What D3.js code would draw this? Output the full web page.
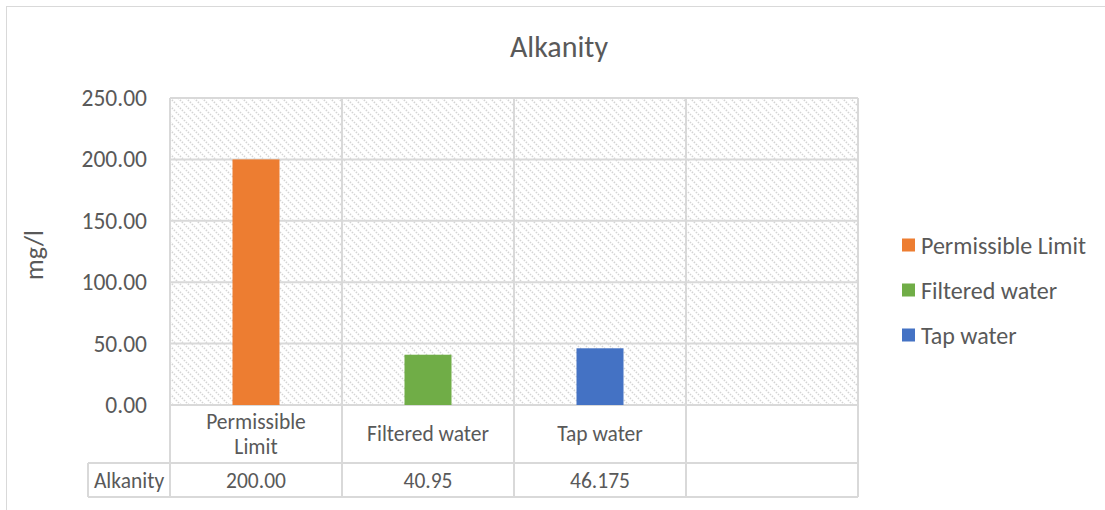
<!DOCTYPE html>
<html>
<head>
<meta charset="utf-8">
<script src="https://cdn.jsdelivr.net/npm/d3@7"></script>
<style>
  html, body { margin: 0; padding: 0; background: #fff; }
  svg { display: block; font-family: Carlito, Calibri, "Open Sans", "Liberation Sans", sans-serif; }
</style>
</head>
<body>
<svg id="chart" width="1105" height="510"></svg>
<script>
// Alkalinity measurements (mg/l)
const categories = ["Permissible Limit", "Filtered water", "Tap water", ""];
const seriesNames = ["Permissible Limit", "Filtered water", "Tap water"];
const values = [200.00, 40.95, 46.175];
const tableLabels = ["200.00", "40.95", "46.175", ""];
const seriesColors = ["#ED7D31", "#70AD47", "#4472C4"];
const yTicks = [0, 50, 100, 150, 200, 250];
const rowName = "Alkanity";

const svg = d3.select("#chart");
const textColor = "#595959";
const gridColor = "#d9d9d9";

const plot = { left: 170, top: 98, right: 858, bottom: 405 };

// diagonal hatch fill for the plot area
const defs = svg.append("defs");
const pat = defs.append("pattern")
  .attr("id", "hatch")
  .attr("patternUnits", "userSpaceOnUse")
  .attr("width", 8).attr("height", 8);
pat.append("rect").attr("width", 8).attr("height", 8).attr("fill", "#fff");
pat.append("path")
  .attr("d", "M-2,-2 L10,10 M-2,6 L2,10 M6,-2 L10,2")
  .attr("stroke", "#d4d4d4").attr("stroke-width", 1.6)
  .attr("stroke-dasharray", "1.4 1.4");

// chart frame
svg.append("rect")
  .attr("x", 6.5).attr("y", 6.5).attr("width", 1110).attr("height", 520)
  .attr("fill", "#fff").attr("stroke", gridColor).attr("stroke-width", 1);

const x = d3.scaleBand().domain(categories.map((d, i) => i))
  .range([plot.left, plot.right]).paddingInner(0).paddingOuter(0);
const y = d3.scaleLinear().domain([0, 250]).range([plot.bottom, plot.top]);

svg.append("rect")
  .attr("x", plot.left).attr("y", plot.top)
  .attr("width", plot.right - plot.left).attr("height", plot.bottom - plot.top)
  .attr("fill", "url(#hatch)");

// horizontal gridlines
svg.append("g").selectAll("line").data(yTicks).join("line")
  .attr("x1", plot.left).attr("x2", plot.right)
  .attr("y1", d => y(d)).attr("y2", d => y(d))
  .attr("stroke", gridColor).attr("stroke-width", 2);

// vertical category gridlines, continued through the data table
const tableBottom = 497;
const boundaries = categories.map((d, i) => x(i)).concat([plot.right]);
svg.append("g").selectAll("line").data(boundaries).join("line")
  .attr("x1", d => d).attr("x2", d => d)
  .attr("y1", plot.top).attr("y2", tableBottom)
  .attr("stroke", gridColor).attr("stroke-width", 2);

// bars: one series per category, narrow bars centred in each band
const barW = 47;
svg.append("g").selectAll("rect").data(values).join("rect")
  .attr("x", (d, i) => x(i) + x.bandwidth() / 2 - barW / 2)
  .attr("width", barW)
  .attr("y", d => y(d))
  .attr("height", d => y(0) - y(d))
  .attr("fill", (d, i) => seriesColors[i]);

// y axis labels
const yAxis = d3.axisLeft(y).tickValues(yTicks).tickFormat(d3.format(".2f")).tickSize(0).tickPadding(23);
const gy = svg.append("g").attr("transform", `translate(${plot.left},0)`).call(yAxis);
gy.select(".domain").remove();
gy.selectAll("text").attr("fill", textColor).attr("font-size", 23.5)
  .attr("font-family", "Carlito, Calibri, 'Open Sans', sans-serif");

// data table
const row1Bottom = 463;
svg.append("line").attr("x1", 88).attr("x2", plot.right)
  .attr("y1", row1Bottom).attr("y2", row1Bottom)
  .attr("stroke", gridColor).attr("stroke-width", 2);
svg.append("line").attr("x1", 88).attr("x2", plot.right)
  .attr("y1", tableBottom).attr("y2", tableBottom)
  .attr("stroke", gridColor).attr("stroke-width", 2);
svg.append("line").attr("x1", 88).attr("x2", 88)
  .attr("y1", row1Bottom).attr("y2", tableBottom)
  .attr("stroke", gridColor).attr("stroke-width", 2);

// category headers (wrapped where needed)
const tableFont = 21.5;
const catG = svg.append("g");
categories.forEach((c, i) => {
  const cx = x(i) + x.bandwidth() / 2;
  const lines = c === "Permissible Limit" ? ["Permissible", "Limit"] : [c];
  const t = catG.append("text")
    .attr("text-anchor", "middle").attr("fill", textColor).attr("font-size", tableFont);
  const lh = 25;
  const startY = (405 + row1Bottom) / 2 + 7 - (lines.length - 1) * lh / 2;
  lines.forEach((ln, k) => {
    t.append("tspan").attr("x", cx).attr("y", startY + k * lh).text(ln);
  });
});

// value row
svg.append("text").attr("x", 129).attr("y", 488)
  .attr("text-anchor", "middle").attr("fill", textColor).attr("font-size", tableFont)
  .text(rowName);
svg.append("g").selectAll("text").data(tableLabels).join("text")
  .attr("x", (d, i) => x(i) + x.bandwidth() / 2).attr("y", 488)
  .attr("text-anchor", "middle").attr("fill", textColor).attr("font-size", tableFont)
  .text(d => d);

// title
svg.append("text").attr("x", 559).attr("y", 57)
  .attr("text-anchor", "middle").attr("fill", textColor).attr("font-size", 30)
  .text("Alkanity");

// y axis title
svg.append("text")
  .attr("transform", "translate(43,255) rotate(-90)")
  .attr("text-anchor", "middle").attr("fill", textColor).attr("font-size", 26)
  .text("mg/l");

// legend
const lg = svg.append("g").selectAll("g").data(seriesNames).join("g")
  .attr("transform", (d, i) => `translate(902,${245 + i * 45})`);
lg.append("rect").attr("x", 0).attr("y", -6.5).attr("width", 13).attr("height", 13)
  .attr("fill", (d, i) => seriesColors[i]);
lg.append("text").attr("x", 19).attr("y", 8.5)
  .attr("fill", textColor).attr("font-size", 24).text(d => d);
</script>
</body>
</html>
